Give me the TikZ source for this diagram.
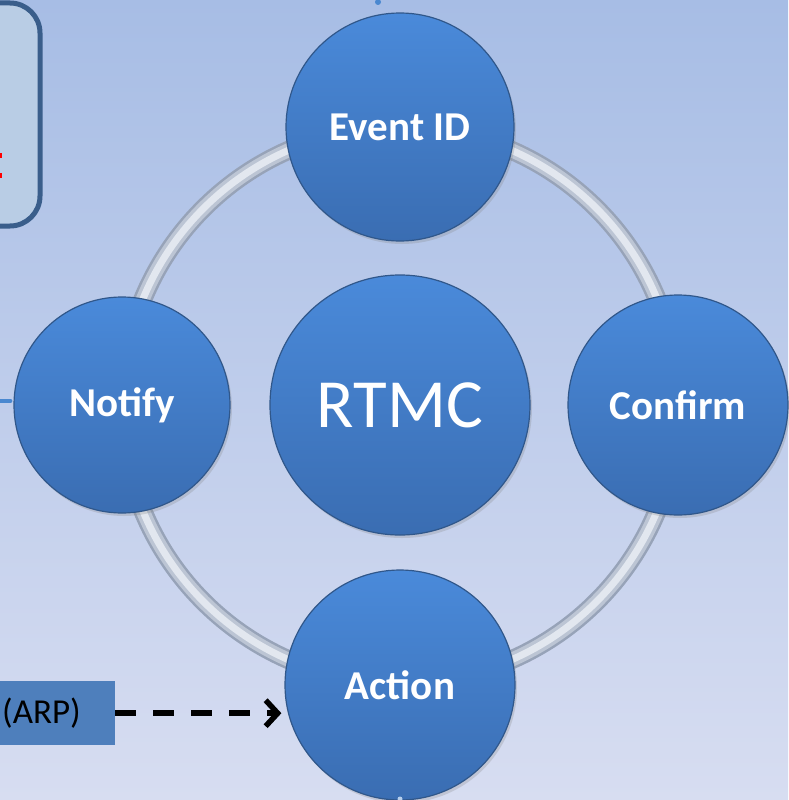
\documentclass[tikz,border=0pt]{standalone}
\usepackage{fontspec}
\setmainfont{Carlito}
\usetikzlibrary{arrows.meta,shadows}
\definecolor{bgtop}{HTML}{A7BDE5}
\definecolor{bgbot}{HTML}{D7DDF1}
\definecolor{balltop}{HTML}{4A8ADA}
\definecolor{ballbot}{HTML}{3A6DB2}
\definecolor{balledge}{HTML}{30578A}
\definecolor{ringdark}{HTML}{97A3B8}
\definecolor{ringmid}{HTML}{BCC5D4}
\definecolor{ringlight}{HTML}{E2E7EF}
\definecolor{boxfill}{HTML}{B9CDE5}
\definecolor{boxedge}{HTML}{3A5E8B}
\definecolor{arpfill}{HTML}{4E7FBC}
\definecolor{linkblue}{HTML}{4A88D0}
\begin{document}
\begin{tikzpicture}[x=1pt,y=-1pt,
  ball/.style={circle, inner sep=0pt, shading=axis, top color=balltop, bottom color=ballbot,
    draw=balledge, line width=1.2pt, text=white,
    drop shadow={opacity=0.25, shadow xshift=2pt, shadow yshift=-3pt}},
  lbl/.style={font=\fontsize{41}{48}\selectfont\bfseries}
]
\useasboundingbox (0,0) rectangle (788,800);
\fill[top color=bgtop, bottom color=bgbot] (0,0) rectangle (788,800);

% ring
\draw[ringdark, line width=19pt] (400,405) circle[radius=278];
\draw[ringmid, line width=14pt] (400,405) circle[radius=278];
\draw[ringlight, line width=7pt] (400,405) circle[radius=278];

% top-left box
\draw[boxedge, fill=boxfill, line width=5pt, rounded corners=30pt] (-60,3) rectangle (40,226);
\fill[red] (0,153) rectangle (2,158);
\fill[red] (0,173) rectangle (2,178);

% circles
\node[ball, minimum size=228pt, lbl] (event) at (400,127) {Event ID};
\node[ball, minimum size=216pt, lbl] (notify) at (122,405) {Notify};
\node[ball, minimum size=260pt, font=\fontsize{69}{80}\selectfont] (rtmc) at (400,405) {RTMC};
\node[ball, minimum size=220pt, lbl] (confirm) at (678,405) {Confirm};
\node[ball, minimum size=230pt, lbl] (action) at (400,685) {Action};

% small stubs
\coordinate (lstub) at (0,401);
\draw[linkblue, line width=4pt, line cap=round, shorten >=3pt] (lstub) -- (notify.west |- lstub);
\fill[linkblue] (378,2) circle[radius=3];
\fill[linkblue!40!white] (400,799) circle[radius=2.5];

% ARP box
\node[fill=arpfill, minimum width=140pt, minimum height=64pt, inner sep=0pt,
      anchor=north east] (arp) at (115,681) {};
\node[anchor=east, font=\fontsize{35}{40}\selectfont, text=black, inner sep=0pt] (arptxt) at (81,713) {(ARP)};

\draw[line width=5.5pt, dash pattern=on 21pt off 17pt,
      -{Straight Barb[length=12pt, width=26pt, line width=5.5pt]}, shorten >=3pt]
      (arp.east) -- (action.west |- arp.east);
\end{tikzpicture}
\end{document}
